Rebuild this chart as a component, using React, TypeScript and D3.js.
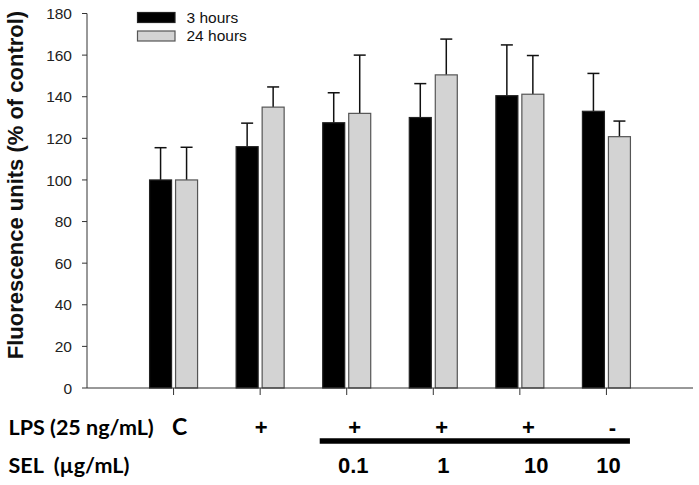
import React from "react";
import * as d3 from "d3";

const categories = ["C", "LPS", "LPS+SEL 0.1", "LPS+SEL 1", "LPS+SEL 10", "SEL 10"];
const lpsLabels = ["C", "+", "+", "+", "+", "-"];
const selLabels = ["", "", "0.1", "1", "10", "10"];
const hours3 = [100, 116, 127.5, 130, 140.5, 133];
const hours3Err = [15.5, 11.3, 14.4, 16.3, 24.4, 18.2];
const hours24 = [100, 135, 132, 150.5, 141.2, 120.8];
const hours24Err = [15.7, 9.7, 28, 17.2, 18.6, 7.5];
const yTicks = [0, 20, 40, 60, 80, 100, 120, 140, 160, 180];
const seriesNames = ["3 hours", "24 hours"];

const W = 699;
const H = 485;
const lpsDx = [6, 1, 8, 8.5, 8.5, 6];
const selDx = [0, 0, 6.5, 10, 16.5, 2];

export default function App() {
  const x = d3.scaleLinear().domain([0, categories.length + 1]).range([87, 693]);
  const y = d3.scaleLinear().domain([0, 180]).range([388, 13.5]);
  const barW = 22;
  const gap = 2;
  const capW = 12;
  const tickFont = "Arial, 'Liberation Sans', sans-serif";
  const calFont = "Lato, 'Open Sans', sans-serif";

  const series = [
    { vals: hours3, errs: hours3Err, fill: "#000000", stroke: "#222", off: -gap - barW },
    { vals: hours24, errs: hours24Err, fill: "#d3d3d3", stroke: "#555", off: gap },
  ];

  return (
    <svg width={W} height={H} style={{ position: "absolute", left: 0, top: 0, background: "#fff" }}>
      {series.map((s, si) =>
        categories.map((c, i) => {
          const cx = x(i + 1);
          const x0 = cx + s.off;
          const top = y(s.vals[i]);
          const eTop = y(s.vals[i] + s.errs[i]);
          const mid = x0 + barW / 2;
          return (
            <g key={`${si}-${i}`}>
              <line x1={mid} x2={mid} y1={top} y2={eTop} stroke="#111" strokeWidth={1.5} />
              <line x1={mid - capW / 2} x2={mid + capW / 2} y1={eTop} y2={eTop} stroke="#111" strokeWidth={1.5} />
              <rect x={x0} y={top} width={barW} height={y(0) - top} fill={s.fill} stroke={s.stroke} strokeWidth={1.2} />
            </g>
          );
        })
      )}

      <line x1={87} x2={87} y1={y(180)} y2={y(0)} stroke="#333" strokeWidth={1} />
      {yTicks.map((t) => (
        <g key={t}>
          <line x1={82} x2={87} y1={y(t)} y2={y(t)} stroke="#333" strokeWidth={1} />
          <text x={72} y={y(t)} dy="0.36em" textAnchor="end" fontFamily={tickFont} fontSize={15.5} fill="#222">
            {t}
          </text>
        </g>
      ))}

      <line x1={87} x2={693} y1={y(0)} y2={y(0)} stroke="#333" strokeWidth={1} />
      {categories.map((c, i) => (
        <line key={c} x1={x(i + 1)} x2={x(i + 1)} y1={y(0)} y2={y(0) + 7} stroke="#333" strokeWidth={1} />
      ))}

      <text
        transform={`translate(23,185) rotate(-90)`}
        textAnchor="middle"
        fontFamily={tickFont}
        fontWeight="bold"
        fontSize={22}
        fill="#111"
      >
        Fluorescence units (% of control)
      </text>

      {seriesNames.map((n, i) => (
        <g key={n}>
          <rect
            x={137.5}
            y={12.5 + i * 18.5}
            width={37.5}
            height={10}
            fill={series[i].fill}
            stroke={series[i].stroke}
            strokeWidth={1.2}
          />
          <text x={186.5} y={22.5 + i * 18.5} fontFamily={tickFont} fontSize={15.5} fill="#111">
            {n}
          </text>
        </g>
      ))}

      <text x={8.5} y={435} fontFamily={calFont} fontWeight="bold" fontSize={21.5} fill="#000">
        LPS (25 ng/mL)
      </text>
      <text x={8.5} y={473} fontFamily={calFont} fontWeight="bold" fontSize={21.5} fill="#000">
        SEL{"\u00a0\u00a0"}(µg/mL)
      </text>
      {lpsLabels.map((l, i) => (
        <text
          key={`l${i}`}
          x={x(i + 1) + lpsDx[i]}
          y={435}
          textAnchor="middle"
          fontFamily={i === 0 ? calFont : tickFont}
          fontWeight="bold"
          fontSize={i === 0 ? 23 : 22}
          fill="#000"
        >
          {l}
        </text>
      ))}
      {selLabels.map((l, i) => (
        <text
          key={`s${i}`}
          x={x(i + 1) + selDx[i]}
          y={473}
          textAnchor="middle"
          fontFamily={tickFont}
          fontWeight="bold"
          fontSize={22}
          fill="#000"
        >
          {l}
        </text>
      ))}
      <line x1={x(3) - 27} x2={x(6) + 23.5} y1={441} y2={441} stroke="#000" strokeWidth={5.5} />
    </svg>
  );
}
